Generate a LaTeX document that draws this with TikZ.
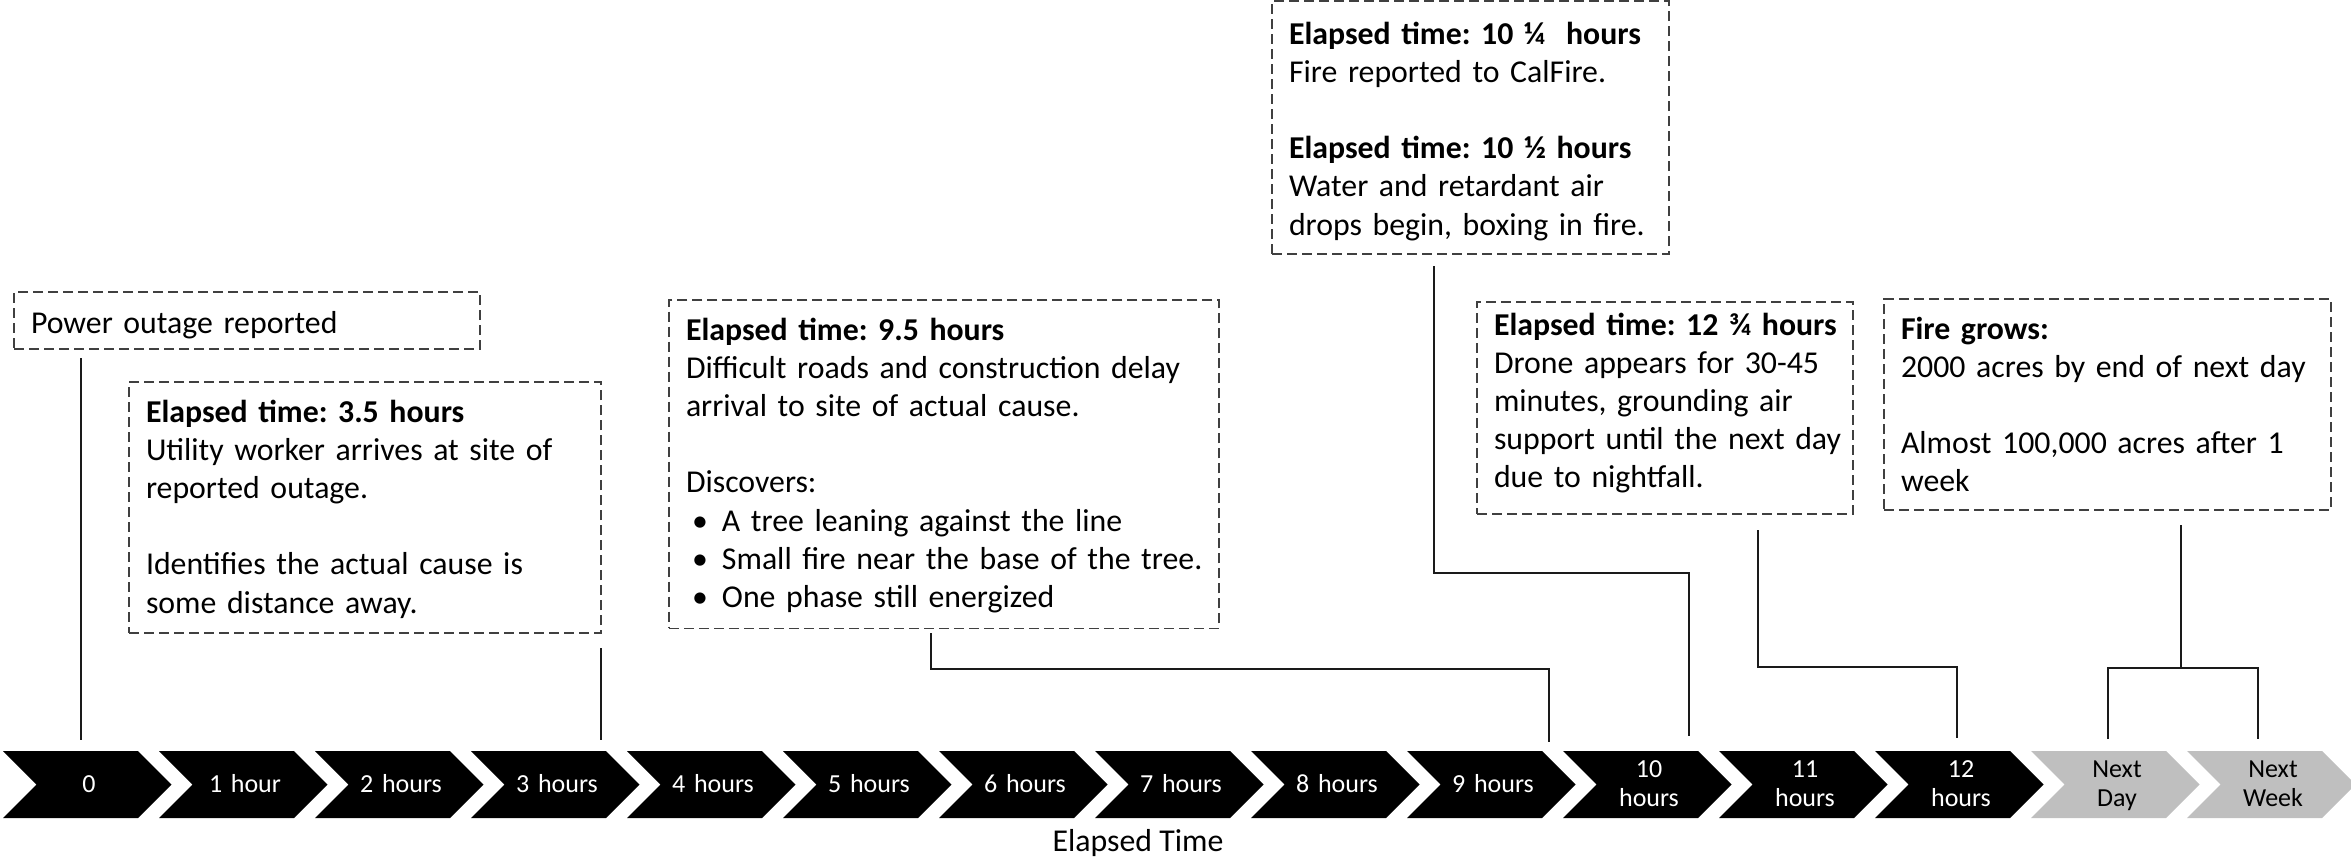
\documentclass[tikz,border=0pt]{standalone}
\usepackage{fontspec}
\setmainfont{Carlito}
\frenchspacing
\definecolor{boxgray}{HTML}{404040}
\definecolor{linecol}{HTML}{1A1A1A}
\definecolor{chevgray}{HTML}{BFBFBF}
\newcommand\boxfont{\fontsize{31.8pt}{38.2pt}\selectfont}
\newcommand\chevfont{\fontsize{26pt}{29pt}\selectfont}
\newcommand\tline[1]{\mbox{#1}}
\newcommand\topstrut[1]{\rule{0pt}{#1}}
\newcommand\botstrut[1]{\rule[-#1]{0pt}{#1}}
\newcommand\bul{\makebox[36pt][l]{\hspace{6pt}\textbullet}}
\begin{document}
\begin{tikzpicture}[x=1pt,y=-1pt,
  evbox/.style={draw=boxgray, line width=1.5pt, dash pattern=on 10pt off 5pt,
    anchor=north west, inner xsep=17pt, inner ysep=0pt, outer sep=0pt,
    align=left, font=\boxfont, text=black},
  conn/.style={draw=linecol, line width=1.5pt},
  chevlab/.style={anchor=base, text width=130pt, align=center, inner sep=0pt, font=\chevfont},
  chevblack/.style={fill=black},
  chevlight/.style={fill=chevgray}
]
\useasboundingbox (0,0) rectangle (2351,857);

% ---- timeline chevrons ----
\foreach [count=\k from 0] \lab in {0,1 hour,2 hours,3 hours,4 hours,5 hours,6 hours,7 hours,8 hours,9 hours}{
  \fill[chevblack] (3+156*\k,751) -- ++(135,0) -- ++(33.5,33.5) -- ++(-33.5,33.5) -- ++(-135,0) -- ++(33.5,-33.5) -- cycle;
  \node[chevlab, text=white] (t\k) at (3+156*\k+86,792.5) {\lab};
}
\foreach [count=\k from 10] \laba/\labb in {10/hours,11/hours,12/hours}{
  \fill[chevblack] (3+156*\k,751) -- ++(135,0) -- ++(33.5,33.5) -- ++(-33.5,33.5) -- ++(-135,0) -- ++(33.5,-33.5) -- cycle;
  \node[chevlab, text=white] (t\k) at (3+156*\k+86,777) {\laba\\\labb};
}
\foreach [count=\k from 13] \laba/\labb in {Next/Day,Next/Week}{
  \fill[chevlight] (3+156*\k,751) -- ++(135,0) -- ++(33.5,33.5) -- ++(-33.5,33.5) -- ++(-135,0) -- ++(33.5,-33.5) -- cycle;
  \node[chevlab, text=black] (t\k) at (3+156*\k+86,777) {\laba\\\labb};
}
\node[anchor=base, font=\boxfont, inner sep=0pt] (axis) at (1138,851) {Elapsed Time};

% ---- event boxes ----
\node[evbox, text width=432pt] (b0) at (14,292)
  {\topstrut{41pt}\tline{Power outage reported}\botstrut{16pt}};

\node[evbox, text width=438pt] (b1) at (129,382)
  {\topstrut{40pt}\tline{\textbf{Elapsed time: 3.5 hours}}\\
   \tline{Utility worker arrives at site of}\\
   \tline{reported outage.}\\[38.2pt]
   \tline{Identifies the actual cause is}\\
   \tline{some distance away.}\botstrut{20pt}};

\node[evbox, text width=516pt] (b2) at (669,300)
  {\topstrut{40pt}\tline{\textbf{Elapsed time: 9.5 hours}}\\
   \tline{Difficult roads and construction delay}\\
   \tline{arrival to site of actual cause.}\\[38.2pt]
   \tline{Discovers:}\\
   \tline{\bul A tree leaning against the line}\\
   \tline{\bul Small fire near the base of the tree.}\\
   \tline{\bul One phase still energized}\botstrut{21pt}};

\node[evbox, text width=363pt] (b3) at (1272,1)
  {\topstrut{43pt}\tline{\textbf{Elapsed time: 10 ¼\ \ hours}}\\
   \tline{Fire reported to CalFire.}\\[38.2pt]
   \tline{\textbf{Elapsed time: 10 ½ hours}}\\
   \tline{Water and retardant air}\\
   \tline{drops begin, boxing in fire.}\botstrut{19pt}};

\node[evbox, text width=342pt] (b4) at (1477,302)
  {\topstrut{33pt}\tline{\textbf{Elapsed time: 12 ¾ hours}}\\
   \tline{Drone appears for 30-45}\\
   \tline{minutes, grounding air}\\
   \tline{support until the next day}\\
   \tline{due to nightfall.}\botstrut{26pt}};

\node[evbox, text width=413pt] (b5) at (1884,299)
  {\topstrut{40pt}\tline{\textbf{Fire grows:}}\\
   \tline{2000 acres by end of next day}\\[38.2pt]
   \tline{Almost 100,000 acres after 1}\\
   \tline{week}\botstrut{18pt}};

% ---- connector end points ----
\coordinate (s0) at (81,358);
\coordinate (s1) at (601,648);
\coordinate (s2) at (931,633);
\coordinate (s3) at (1434,266);
\coordinate (s4) at (1758,530);
\coordinate (s5) at (2181,525);
\coordinate (tl) at (0,740);
\coordinate (e2) at (1549,742);
\coordinate (e3) at (1689,736);
\coordinate (e4) at (1957,738);
\coordinate (j5) at (2181,668);
\coordinate (ed) at (2108,739);
\coordinate (ew) at (2258,739);

% ---- connectors ----
\draw[conn] (s0) -- (s0 |- tl);
\draw[conn] (s1) -- (s1 |- tl);
\draw[conn] (s2) -- ++(0,36) -| (e2);
\draw[conn] (s3) -- ++(0,307) -| (e3);
\draw[conn] (s4) -- ++(0,137) -| (e4);
\draw[conn] (s5) -- (j5);
\draw[conn] (ed) -- (ed |- j5) -- (ew |- j5) -- (ew);
\end{tikzpicture}
\end{document}
